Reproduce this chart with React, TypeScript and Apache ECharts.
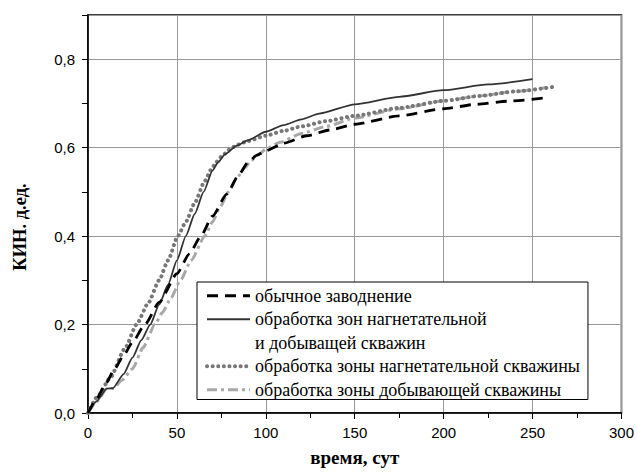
import React, { useEffect, useRef } from "react";
import * as echarts from "echarts";

const xTicks = [0, 50, 100, 150, 200, 250, 300];

const waterX = [0, 5, 10, 15, 20, 25, 32, 40, 50, 57, 63.5, 70, 78, 85, 90, 95, 100, 110, 123, 136, 150, 175, 200, 218, 236, 256];
const waterY = [0, 0.033, 0.067, 0.1, 0.13, 0.16, 0.2, 0.25, 0.315, 0.36, 0.4, 0.445, 0.495, 0.54, 0.567, 0.583, 0.593, 0.61, 0.627, 0.64, 0.653, 0.672, 0.688, 0.698, 0.705, 0.712];

const bothX = [0, 5, 10.5, 14, 20, 25, 30, 35, 40, 45, 50, 55, 60, 65, 70, 73, 77, 83.5, 90, 100, 110, 120, 130, 150, 175, 200, 225, 250];
const bothY = [0, 0.027, 0.055, 0.056, 0.088, 0.125, 0.165, 0.2, 0.245, 0.29, 0.345, 0.4, 0.45, 0.5, 0.548, 0.566, 0.585, 0.604, 0.617, 0.636, 0.651, 0.664, 0.677, 0.698, 0.715, 0.73, 0.743, 0.755];

const injX = [0, 5.8, 12.4, 20.8, 27.3, 33.8, 40, 45, 50.5, 55, 60, 65.7, 69.5, 72, 76, 80, 83.5, 90, 100, 110, 120, 134, 150, 175, 200.6, 220, 240, 261];
const injY = [0, 0.04, 0.079, 0.146, 0.2, 0.248, 0.3, 0.345, 0.4, 0.432, 0.475, 0.525, 0.552, 0.567, 0.584, 0.597, 0.606, 0.615, 0.627, 0.638, 0.648, 0.66, 0.672, 0.69, 0.706, 0.717, 0.727, 0.737];

const prodX = [0, 5, 10.5, 14.5, 19, 25, 31, 37.6, 42, 46, 52, 58, 65.7, 70, 74.2, 79, 84, 88.2, 92, 96.6, 100, 108, 120, 134, 150, 175, 200.6, 220, 240, 258];
const prodY = [0, 0.026, 0.054, 0.056, 0.074, 0.1, 0.148, 0.2, 0.228, 0.255, 0.3, 0.345, 0.4, 0.432, 0.465, 0.5, 0.533, 0.555, 0.572, 0.586, 0.597, 0.612, 0.632, 0.648, 0.667, 0.688, 0.706, 0.717, 0.727, 0.736];

const names = [
  "обычное заводнение",
  "обработка зон нагнетательной",
  "и добыващей скважин",
  "обработка зоны нагнетательной скважины",
  "обработка зоны добывающей скважины",
];

const xTitle = "время, сут";
const yTitle = "КИН. д.ед.";

const zip = (xs: number[], ys: number[]) => xs.map((x, i) => [x, ys[i]]);

export default function App() {
  const ref = useRef<HTMLDivElement>(null);
  useEffect(() => {
    document.body.style.margin = "0";
    if (!ref.current) return;
    const chart = echarts.init(ref.current, undefined, { renderer: "svg" });
    const sans = "Liberation Sans, Arial, sans-serif";
    const serif = "Liberation Serif, Times New Roman, serif";
    const hidden = { opacity: 0 };
    chart.setOption({
      animation: false,
      backgroundColor: "#fff",
      grid: {
        left: 88,
        right: 14,
        top: 15,
        bottom: 59,
        show: true,
        borderColor: "#000",
        borderWidth: 1.5,
        backgroundColor: "transparent",
      },
      graphic: [
        {
          type: "text",
          x: 20,
          y: 227,
          rotation: Math.PI / 2,
          style: {
            text: yTitle,
            align: "center",
            verticalAlign: "middle",
            fontFamily: serif,
            fontSize: 18.5,
            fontWeight: "bold",
            fill: "#000",
          },
        },
      ],
      legend: {
        orient: "vertical",
        left: 197,
        top: 282,
        itemWidth: 43,
        itemHeight: 14,
        itemGap: 4,
        padding: [4, 8, 0, 8],
        borderColor: "#000",
        borderWidth: 1,
        backgroundColor: "#fff",
        selectedMode: false,
        itemStyle: hidden,
        lineStyle: { width: "inherit" },
        textStyle: { fontFamily: serif, fontSize: 18, color: "#000", lineHeight: 19.5 },
        data: [
          { name: names[0], itemStyle: hidden },
          { name: names[1], itemStyle: hidden },
          { name: names[2], lineStyle: hidden, itemStyle: hidden },
          { name: names[3], itemStyle: hidden },
          { name: names[4], itemStyle: hidden },
        ],
      },
      xAxis: {
        type: "value",
        min: 0,
        max: 300,
        interval: 50,
        name: xTitle,
        nameLocation: "middle",
        nameGap: 35,
        nameTextStyle: { fontFamily: serif, fontSize: 19, fontWeight: "bold", color: "#000" },
        axisLine: { show: true, lineStyle: { color: "#000", width: 1.5 } },
        axisTick: { show: true, length: 6, lineStyle: { color: "#000", width: 1 } },
        minorTick: { show: true, splitNumber: 2, length: 5, lineStyle: { color: "#000", width: 1 } },
        axisLabel: { fontFamily: sans, fontSize: 15, color: "#000", margin: 12 },
        splitLine: { show: true, lineStyle: { color: "#999", width: 1 } },
      },
      yAxis: [
        {
          type: "value",
          min: 0,
          max: 0.9,
          interval: 0.1,
          axisLine: { show: true, lineStyle: { color: "#000", width: 1.5 } },
          axisTick: { show: true, length: 6, lineStyle: { color: "#000", width: 1 } },
          axisLabel: {
            fontFamily: sans,
            fontSize: 15,
            color: "#000",
            margin: 13,
            formatter: (v: number) => {
              const k = Math.round(v * 10);
              return k % 2 === 0 && k < 9 ? (k / 10).toFixed(1).replace(".", ",") : "";
            },
          },
          splitLine: { show: false },
        },
        {
          type: "value",
          min: 0,
          max: 0.9,
          interval: 0.2,
          position: "left",
          axisLine: { show: false },
          axisTick: { show: false },
          axisLabel: { show: false },
          splitLine: { show: true, lineStyle: { color: "#999", width: 1 } },
        },
      ],
      series: [
        {
          name: names[0],
          type: "line",
          data: zip(waterX, waterY),
          showSymbol: false,
          symbol: "none",
          smooth: 0.2,
          smoothMonotone: "x",
          lineStyle: { color: "#000", width: 2.8, type: [11, 7] },
          itemStyle: { color: "#000" },
          z: 5,
        },
        {
          name: names[1],
          type: "line",
          data: zip(bothX, bothY),
          showSymbol: false,
          symbol: "none",
          smooth: 0.2,
          smoothMonotone: "x",
          lineStyle: { color: "#333", width: 1.8, type: "solid" },
          itemStyle: { color: "#333" },
          z: 4,
        },
        {
          name: names[2],
          type: "line",
          data: [],
          showSymbol: false,
          symbol: "none",
          lineStyle: { opacity: 0 },
          itemStyle: { opacity: 0 },
        },
        {
          name: names[3],
          type: "line",
          data: zip(injX, injY),
          showSymbol: false,
          symbol: "none",
          smooth: 0.2,
          smoothMonotone: "x",
          lineStyle: { color: "#777", width: 4, type: [0.1, 5.5], cap: "round" },
          itemStyle: { color: "#777" },
          z: 3,
        },
        {
          name: names[4],
          type: "line",
          data: zip(prodX, prodY),
          showSymbol: false,
          symbol: "none",
          smooth: 0.2,
          smoothMonotone: "x",
          lineStyle: { color: "#a8a8a8", width: 3, type: [10, 4, 3, 4] },
          itemStyle: { color: "#a8a8a8" },
          z: 2,
        },
      ],
    });
    return () => chart.dispose();
  }, []);
  return <div ref={ref} style={{ width: 637, height: 472 }} />;
}
